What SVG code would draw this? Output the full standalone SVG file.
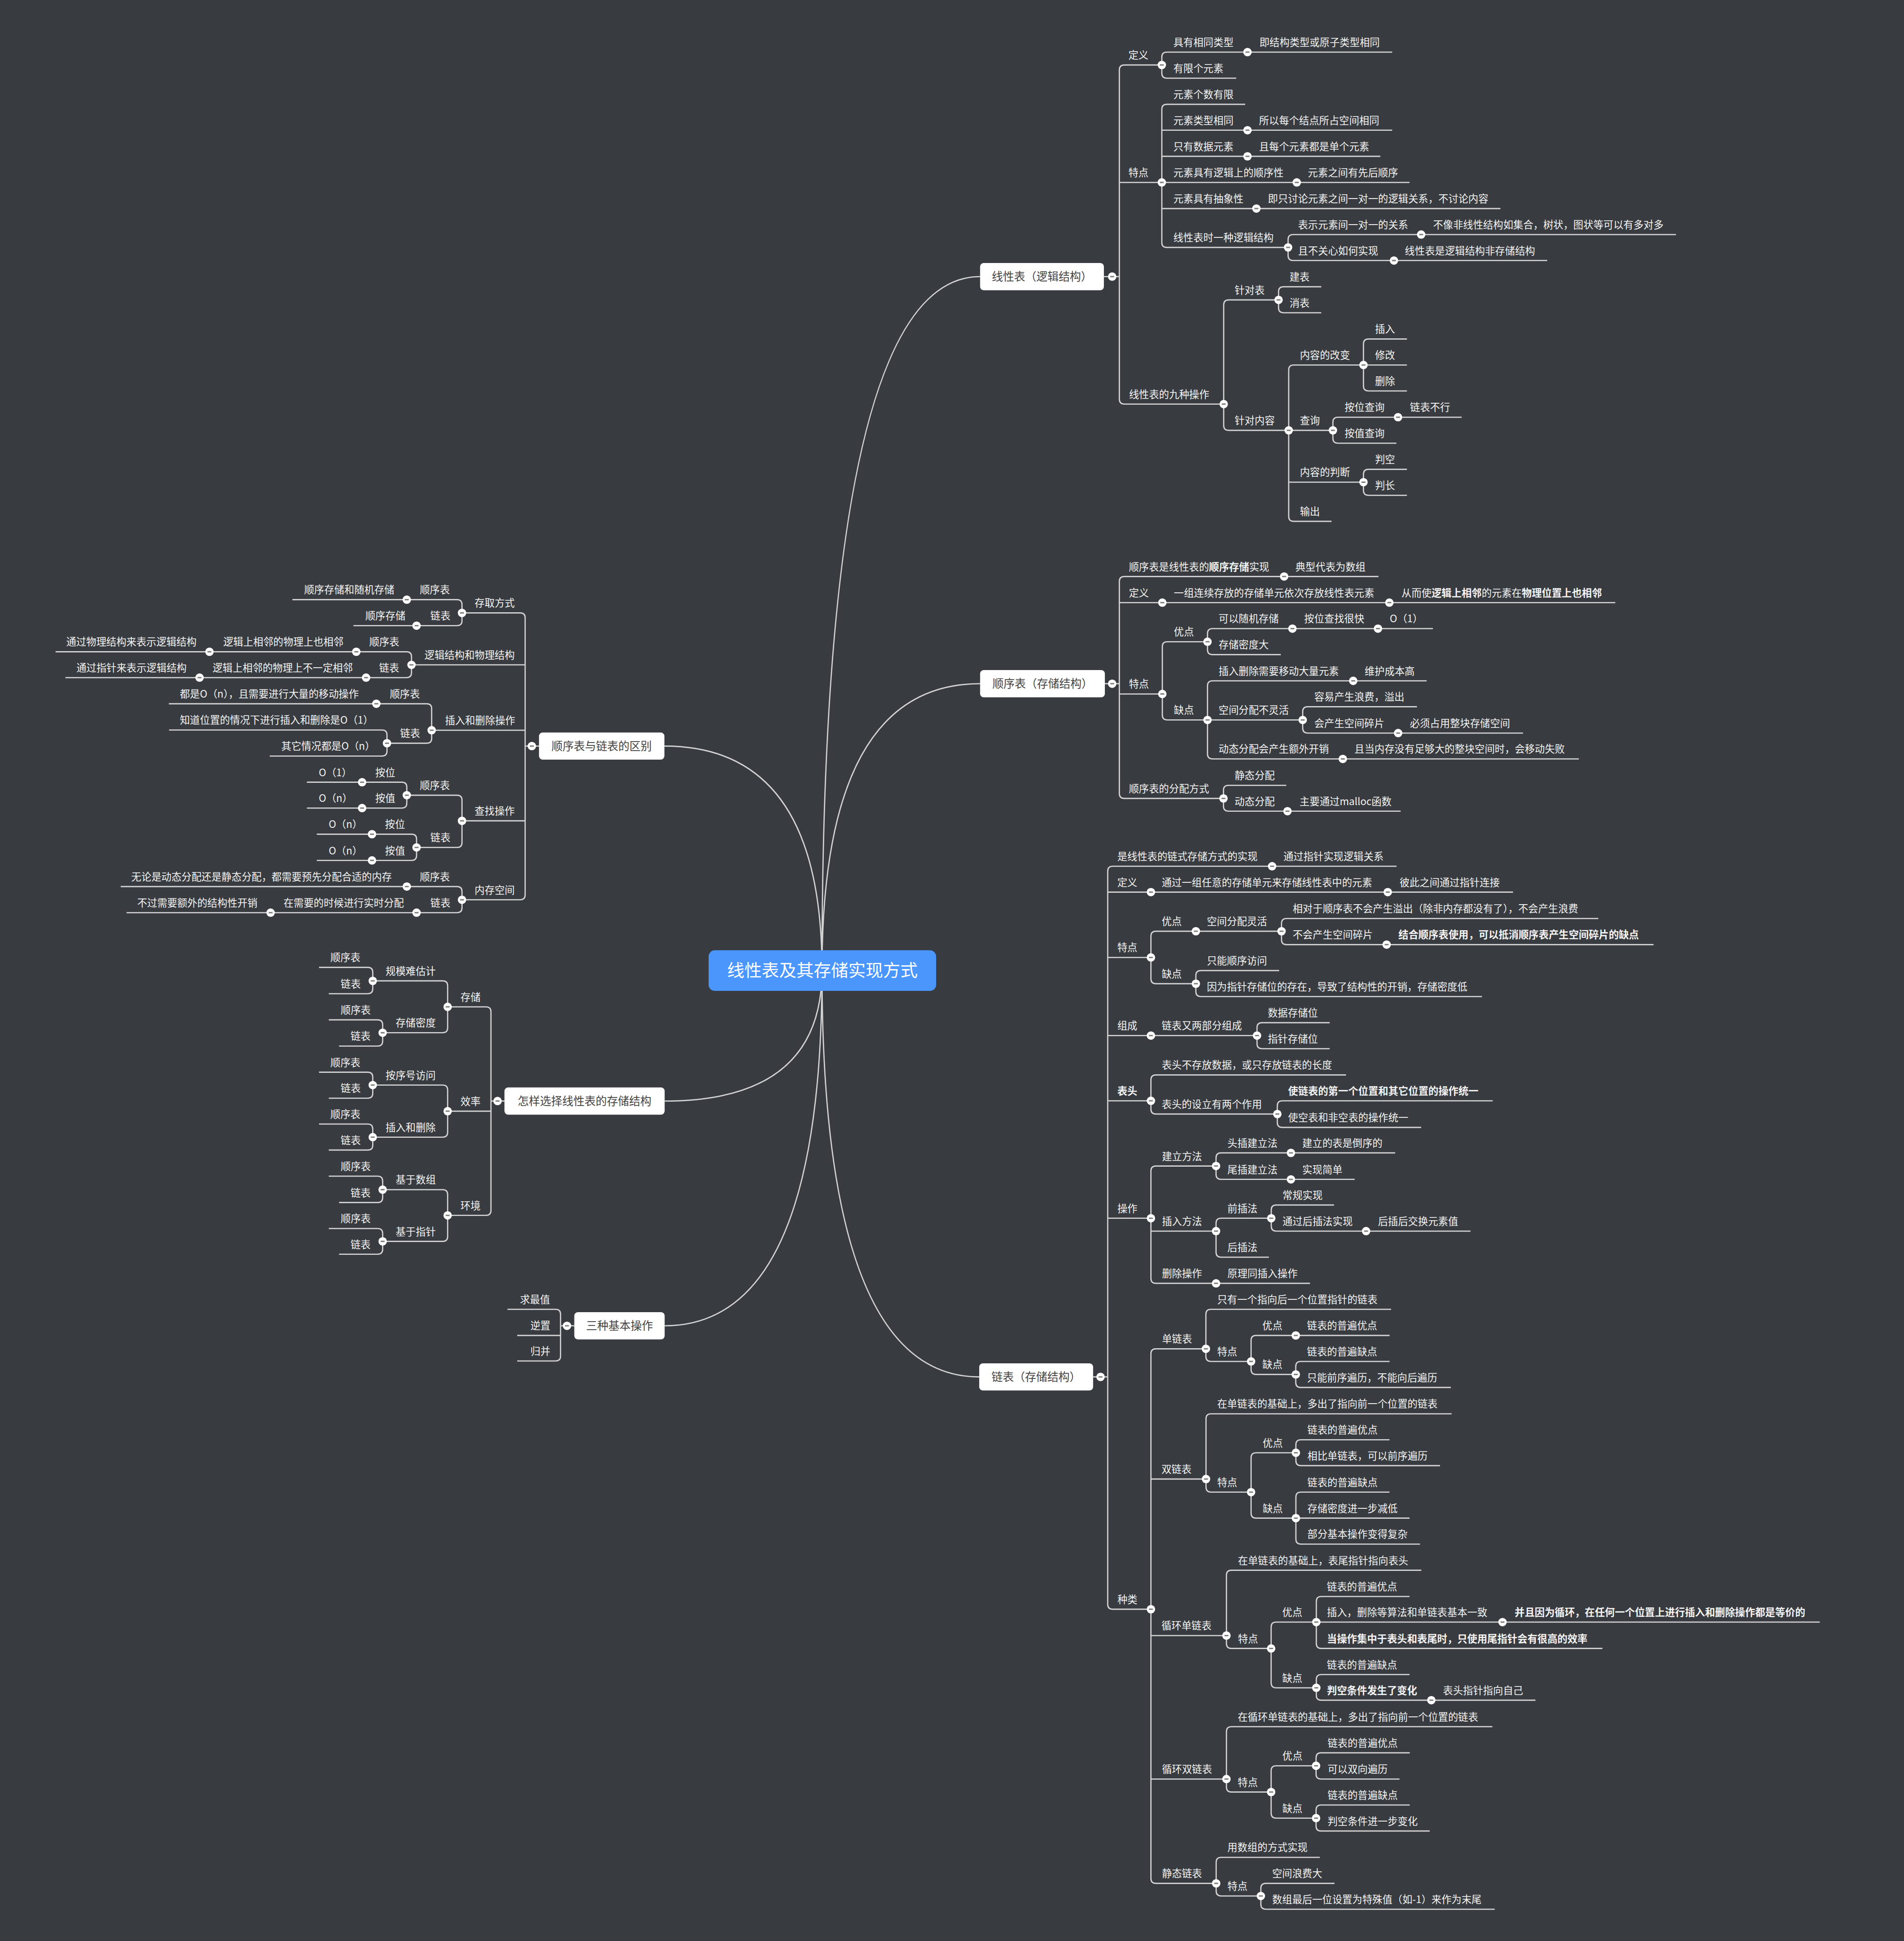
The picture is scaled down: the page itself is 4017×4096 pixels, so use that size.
<svg xmlns="http://www.w3.org/2000/svg" width="4017" height="4096" viewBox="0 0 4017 4096">
<defs>
<style>
text{font-family:"Noto Sans CJK SC","Noto Sans",sans-serif;font-size:8.1px;fill:#f4f4f4}
.bx{fill:#fff}
.bt{font-size:9px;fill:#444;text-anchor:middle}
.rt{font-size:14px;fill:#fff;text-anchor:middle}
.b{font-weight:bold}
#conn path{fill:none;stroke:#d4d4d4;stroke-width:1}
</style>
<g id="d"><circle r="3.4" fill="#fff"/><path d="M-1.6 0H1.6" stroke="#7d7d7d" stroke-width="1.1"/></g>
</defs>
<rect width="4017" height="4096" fill="#383b40"/>
<g transform="scale(2.6118)">
<g id="conn">
<path d="M664,784 Q664,223.5 791.7,223.5"/>
<path d="M664,784 Q664,552.4 791.7,552.4"/>
<path d="M664,784 Q664,1112.5 791,1112.5"/>
<path d="M664,784 Q664,602.8 536.7,602.8"/>
<path d="M664,784 Q664,889.6 536.9,889.6"/>
<path d="M664,784 Q664,1071.2 536.9,1071.2"/>
<!-- R1 -->
<path d="M891.7,223.5 H904.2"/>
<path d="M938.5,52.5 H908.2 Q904.2,52.5 904.2,56.5 V322.5 Q904.2,326.5 908.2,326.5 H988.5"/>
<path d="M904.2,147.4 H938.5"/>
<path d="M1007.7,42.1 H942.5 Q938.5,42.1 938.5,46.1 V59.2 Q938.5,63.2 942.5,63.2 H998.6"/>
<path d="M1007.7,42.1 H1124.6"/>
<path d="M1005.8,84.3 H942.5 Q938.5,84.3 938.5,88.3 V195.9 Q938.5,199.9 942.5,199.9 H1040.5"/>
<path d="M938.5,105.2 H1124.6 M938.5,126.3 H1115 M938.5,147.4 H1138.6 M938.5,168.5 H1212"/>
<path d="M1148,189.5 H1044.5 Q1040.5,189.5 1040.5,193.5 V206.5 Q1040.5,210.5 1044.5,210.5 H1249.8"/>
<path d="M1148,189.5 H1353.8"/>
<path d="M1032.8,242.3 H992.5 Q988.5,242.3 988.5,246.3 V343.7 Q988.5,347.7 992.5,347.7 H1041"/>
<path d="M1067.3,231.7 H1036.8 Q1032.8,231.7 1032.8,235.7 V248.7 Q1032.8,252.7 1036.8,252.7 H1067.3"/>
<path d="M1101.4,294.9 H1045 Q1041,294.9 1041,298.9 V417.2 Q1041,421.2 1045,421.2 H1075.6"/>
<path d="M1041,347.7 H1076.7 M1041,389.6 H1101.4"/>
<path d="M1136.5,273.9 H1105.4 Q1101.4,273.9 1101.4,277.9 V311.9 Q1101.4,315.9 1105.4,315.9 H1136.5 M1101.4,294.9 H1136.5"/>
<path d="M1180.7,337.1 H1080.7 Q1076.7,337.1 1076.7,341.1 V354.1 Q1076.7,358.1 1080.7,358.1 H1128"/>
<path d="M1136.5,379.2 H1105.4 Q1101.4,379.2 1101.4,383.2 V396.2 Q1101.4,400.2 1105.4,400.2 H1136.5"/>
<!-- R2 -->
<path d="M892.5,552.4 H904.2"/>
<path d="M1037.3,465.8 H908.2 Q904.2,465.8 904.2,469.8 V641.1 Q904.2,645.1 908.2,645.1 H988.3"/>
<path d="M904.2,486.9 H1304.8 M904.2,560.7 H938.9 M1037.3,465.8 H1113.5"/>
<path d="M975.4,518.5 H942.9 Q938.9,518.5 938.9,522.5 V577.7 Q938.9,581.7 942.9,581.7 H975.4"/>
<path d="M1044,507.9 H979.4 Q975.4,507.9 975.4,511.9 V524.9 Q975.4,528.9 979.4,528.9 H1034.6 M1044,507.9 H1157.5"/>
<path d="M1093.1,550.1 H979.4 Q975.4,550.1 975.4,554.1 V609.2 Q975.4,613.2 979.4,613.2 H1275.4 M975.4,581.7 H1052.3 M1093.1,550.1 H1152.4"/>
<path d="M1144.6,571 H1056.3 Q1052.3,571 1052.3,575 V588.3 Q1052.3,592.3 1056.3,592.3 H1230.3"/>
<path d="M1039,634.5 H992.3 Q988.3,634.5 988.3,638.5 V651.4 Q988.3,655.4 992.3,655.4 H1131.4"/>
<!-- R3 -->
<path d="M883,1112.5 H894.8"/>
<path d="M1027.6,699.9 H898.8 Q894.8,699.9 894.8,703.9 V1296.2 Q894.8,1300.2 898.8,1300.2 H929.7"/>
<path d="M894.8,720.8 H1222.2 M894.8,773.6 H929.7 M894.8,836.7 H1015.4 M894.8,889.4 H929.7 M894.8,984.3 H929.7 M1027.6,699.9 H1128.1"/>
<path d="M966,752.4 H933.7 Q929.7,752.4 929.7,756.4 V790.8 Q929.7,794.8 933.7,794.8 H966 M966,752.4 H1035.2"/>
<path d="M1291.1,742.1 H1039.2 Q1035.2,742.1 1035.2,746.1 V759.2 Q1035.2,763.2 1039.2,763.2 H1335.7"/>
<path d="M1033.3,784.2 H970 Q966,784.2 966,788.2 V801.2 Q966,805.2 970,805.2 H1197.1"/>
<path d="M1074.1,826.3 H1019.4 Q1015.4,826.3 1015.4,830.3 V843.3 Q1015.4,847.3 1019.4,847.3 H1074.1"/>
<path d="M1087.3,868.5 H933.7 Q929.7,868.5 929.7,872.5 V896.1 Q929.7,900.1 933.7,900.1 H1031.8"/>
<path d="M1205.8,889.4 H1035.8 Q1031.8,889.4 1031.8,893.4 V906.9 Q1031.8,910.9 1035.8,910.9 H1148"/>
<path d="M982.3,942.1 H933.7 Q929.7,942.1 929.7,946.1 V1032.9 Q929.7,1036.9 933.7,1036.9 H1058.2 M929.7,994.7 H982.3"/>
<path d="M1127,931.5 H986.3 Q982.3,931.5 982.3,935.5 V948.9 Q982.3,952.9 986.3,952.9 H1094.3"/>
<path d="M1026.9,984.3 H986.3 Q982.3,984.3 982.3,988.3 V1011.8 Q982.3,1015.8 986.3,1015.8 H1025"/>
<path d="M1077.6,973.6 H1030.9 Q1026.9,973.6 1026.9,977.6 V990.7 Q1026.9,994.7 1030.9,994.7 H1187.9"/>
<path d="M974.1,1089.8 H933.7 Q929.7,1089.8 929.7,1093.8 V1517.7 Q929.7,1521.7 933.7,1521.7 H982.4 M929.7,1195 H974.2 M929.7,1321.5 H990.7 M929.7,1437.4 H990.7"/>
<path d="M1123.7,1057.9 H978.1 Q974.1,1057.9 974.1,1061.9 V1096 Q974.1,1100 978.1,1100 H1010.6"/>
<path d="M1046.7,1079 H1014.6 Q1010.6,1079 1010.6,1083 V1106.5 Q1010.6,1110.5 1014.6,1110.5 H1046.7 M1046.7,1079 H1122.5"/>
<path d="M1122.5,1100 H1050.7 Q1046.7,1100 1046.7,1104 V1117 Q1046.7,1121 1050.7,1121 H1172"/>
<path d="M1172.6,1142.3 H978.2 Q974.2,1142.3 974.2,1146.3 V1201.6 Q974.2,1205.6 978.2,1205.6 H1010.6"/>
<path d="M1046.8,1173.8 H1014.6 Q1010.6,1173.8 1010.6,1177.8 V1222.6 Q1010.6,1226.6 1014.6,1226.6 H1046.8"/>
<path d="M1122.4,1163.3 H1050.8 Q1046.8,1163.3 1046.8,1167.3 V1180.2 Q1046.8,1184.2 1050.8,1184.2 H1163.2"/>
<path d="M1122.4,1205.6 H1050.8 Q1046.8,1205.6 1046.8,1209.6 V1243.6 Q1046.8,1247.6 1050.8,1247.6 H1147 M1046.8,1226.6 H1138.6"/>
<path d="M1148.1,1268.7 H994.7 Q990.7,1268.7 990.7,1272.7 V1327.9 Q990.7,1331.9 994.7,1331.9 H1026.8"/>
<path d="M1063.3,1310.6 H1030.8 Q1026.8,1310.6 1026.8,1314.6 V1359.7 Q1026.8,1363.7 1030.8,1363.7 H1063.3"/>
<path d="M1138.6,1289.9 H1067.3 Q1063.3,1289.9 1063.3,1293.9 V1327.9 Q1063.3,1331.9 1067.3,1331.9 H1294.4 M1063.3,1310.6 H1470"/>
<path d="M1138.6,1353 H1067.3 Q1063.3,1353 1063.3,1357 V1369.7 Q1063.3,1373.7 1067.3,1373.7 H1240.3"/>
<path d="M1205.5,1395.1 H994.7 Q990.7,1395.1 990.7,1399.1 V1443.9 Q990.7,1447.9 994.7,1447.9 H1026.8"/>
<path d="M1063.1,1426.7 H1030.8 Q1026.8,1426.7 1026.8,1430.7 V1465 Q1026.8,1469 1030.8,1469 H1063.1"/>
<path d="M1138.8,1416.2 H1067.1 Q1063.1,1416.2 1063.1,1420.2 V1433.4 Q1063.1,1437.4 1067.1,1437.4 H1130.5"/>
<path d="M1138.8,1458.4 H1067.1 Q1063.1,1458.4 1063.1,1462.4 V1475.4 Q1063.1,1479.4 1067.1,1479.4 H1154.9"/>
<path d="M1066.1,1500.7 H986.4 Q982.4,1500.7 982.4,1504.7 V1527.9 Q982.4,1531.9 986.4,1531.9 H1018.5"/>
<path d="M1078,1521.7 H1022.5 Q1018.5,1521.7 1018.5,1525.7 V1538.6 Q1018.5,1542.6 1022.5,1542.6 H1207.4"/>
<!-- L1 -->
<path d="M435.4,602.8 H424.2"/>
<path d="M373.2,495.2 H420.2 Q424.2,495.2 424.2,499.2 V723 Q424.2,727 420.2,727 H373.2 M424.2,537.2 H332.4 M424.2,590 H348.7 M424.2,663.2 H373.2"/>
<path d="M236.2,484.5 H369.2 Q373.2,484.5 373.2,488.5 V501.5 Q373.2,505.5 369.2,505.5 H285.5"/>
<path d="M44.9,526.6 H328.4 Q332.4,526.6 332.4,530.6 V543.5 Q332.4,547.5 328.4,547.5 H52.8"/>
<path d="M136.4,568.6 H344.7 Q348.7,568.6 348.7,572.6 V596.5 Q348.7,600.5 344.7,600.5 H312.6"/>
<path d="M136.6,589.8 H308.6 Q312.6,589.8 312.6,593.8 V606.9 Q312.6,610.9 308.6,610.9 H217.9"/>
<path d="M328.6,642.5 H369.2 Q373.2,642.5 373.2,646.5 V680.7 Q373.2,684.7 369.2,684.7 H336.5"/>
<path d="M247.9,632 H324.6 Q328.6,632 328.6,636 V648.9 Q328.6,652.9 324.6,652.9 H247.9"/>
<path d="M255.9,674 H332.5 Q336.5,674 336.5,678 V691.2 Q336.5,695.2 332.5,695.2 H255.9"/>
<path d="M97.5,716.3 H369.2 Q373.2,716.3 373.2,720.3 V733.4 Q373.2,737.4 369.2,737.4 H102.2"/>
<!-- L2 -->
<path d="M407.5,889.6 H396.6"/>
<path d="M361.6,813.5 H392.6 Q396.6,813.5 396.6,817.5 V978 Q396.6,982 392.6,982 H361.6 M396.6,897.8 H361.6"/>
<path d="M301.1,792.5 H357.6 Q361.6,792.5 361.6,796.5 V830.4 Q361.6,834.4 357.6,834.4 H309.1"/>
<path d="M257.7,781.6 H297.1 Q301.1,781.6 301.1,785.6 V798.9 Q301.1,802.9 297.1,802.9 H265.6"/>
<path d="M265.6,824 H305.1 Q309.1,824 309.1,828 V841.2 Q309.1,845.2 305.1,845.2 H273.9"/>
<path d="M301.1,876.7 H357.6 Q361.6,876.7 361.6,880.7 V914.8 Q361.6,918.8 357.6,918.8 H301.1"/>
<path d="M257.7,866.3 H297.1 Q301.1,866.3 301.1,870.3 V883.3 Q301.1,887.3 297.1,887.3 H265.6"/>
<path d="M257.7,908.2 H297.1 Q301.1,908.2 301.1,912.2 V925.2 Q301.1,929.2 297.1,929.2 H265.6"/>
<path d="M309.1,961.2 H357.6 Q361.6,961.2 361.6,965.2 V999 Q361.6,1003 357.6,1003 H309.1"/>
<path d="M265.6,950.3 H305.1 Q309.1,950.3 309.1,954.3 V967.6 Q309.1,971.6 305.1,971.6 H273.9"/>
<path d="M265.6,992.6 H305.1 Q309.1,992.6 309.1,996.6 V1009.4 Q309.1,1013.4 305.1,1013.4 H273.9"/>
<!-- L3 -->
<path d="M463.9,1071.2 H452.8"/>
<path d="M409.9,1057.9 H448.8 Q452.8,1057.9 452.8,1061.9 V1095.6 Q452.8,1099.6 448.8,1099.6 H417.8 M452.8,1079 H417.8"/>
</g>
<g id="toggles">
<use href="#d" x="898.4" y="223.5"/><use href="#d" x="938.5" y="52.5"/><use href="#d" x="1007.7" y="42.1"/><use href="#d" x="938.5" y="147.4"/><use href="#d" x="1007.7" y="105.2"/><use href="#d" x="1007.7" y="126.3"/><use href="#d" x="1047.5" y="147.4"/><use href="#d" x="1014.9" y="168.5"/><use href="#d" x="1040.5" y="199.9"/><use href="#d" x="1148" y="189.5"/><use href="#d" x="1126" y="210.5"/><use href="#d" x="988.5" y="326.5"/><use href="#d" x="1032.8" y="242.3"/><use href="#d" x="1041" y="347.7"/><use href="#d" x="1101.4" y="294.9"/><use href="#d" x="1076.7" y="347.7"/><use href="#d" x="1129.3" y="337.1"/><use href="#d" x="1101.4" y="389.6"/>
<use href="#d" x="898.4" y="552.4"/><use href="#d" x="1037.3" y="465.8"/><use href="#d" x="938.9" y="486.9"/><use href="#d" x="1122.3" y="486.9"/><use href="#d" x="938.9" y="560.7"/><use href="#d" x="975.4" y="518.5"/><use href="#d" x="1044" y="507.9"/><use href="#d" x="1113.1" y="507.9"/><use href="#d" x="975.4" y="581.7"/><use href="#d" x="1093.1" y="550.1"/><use href="#d" x="1052.3" y="581.7"/><use href="#d" x="1129.4" y="592.3"/><use href="#d" x="1084.7" y="613.2"/><use href="#d" x="988.3" y="645.1"/><use href="#d" x="1040" y="655.4"/>
<use href="#d" x="889" y="1112.5"/><use href="#d" x="1027.6" y="699.9"/><use href="#d" x="929.7" y="720.8"/><use href="#d" x="1121" y="720.8"/><use href="#d" x="929.7" y="773.6"/><use href="#d" x="966" y="752.4"/><use href="#d" x="1035.2" y="752.4"/><use href="#d" x="1120.1" y="763.2"/><use href="#d" x="966" y="794.8"/><use href="#d" x="929.7" y="836.7"/><use href="#d" x="1015.4" y="836.7"/><use href="#d" x="929.7" y="889.4"/><use href="#d" x="1031.8" y="900.1"/><use href="#d" x="929.7" y="984.3"/><use href="#d" x="982.3" y="942.1"/><use href="#d" x="1042.8" y="931.5"/><use href="#d" x="1042.8" y="952.9"/><use href="#d" x="982.3" y="994.7"/><use href="#d" x="1026.9" y="984.3"/><use href="#d" x="1103.5" y="994.7"/><use href="#d" x="982.3" y="1036.9"/><use href="#d" x="929.7" y="1300.2"/><use href="#d" x="974.1" y="1089.8"/><use href="#d" x="1010.6" y="1100"/><use href="#d" x="1046.7" y="1079"/><use href="#d" x="1046.7" y="1110.5"/><use href="#d" x="974.2" y="1195"/><use href="#d" x="1010.6" y="1205.6"/><use href="#d" x="1046.8" y="1173.8"/><use href="#d" x="1046.8" y="1226.6"/><use href="#d" x="990.7" y="1321.5"/><use href="#d" x="1026.8" y="1331.9"/><use href="#d" x="1063.3" y="1310.6"/><use href="#d" x="1213.7" y="1310.6"/><use href="#d" x="1063.3" y="1363.7"/><use href="#d" x="1156.2" y="1373.7"/><use href="#d" x="990.7" y="1437.4"/><use href="#d" x="1026.8" y="1447.9"/><use href="#d" x="1063.1" y="1426.7"/><use href="#d" x="1063.1" y="1469"/><use href="#d" x="982.4" y="1521.7"/><use href="#d" x="1018.5" y="1531.9"/>
<use href="#d" x="429.6" y="602.8"/><use href="#d" x="373.2" y="495.2"/><use href="#d" x="328.6" y="484.5"/><use href="#d" x="336.5" y="505.5"/><use href="#d" x="332.4" y="537.2"/><use href="#d" x="287.8" y="526.6"/><use href="#d" x="169.2" y="526.6"/><use href="#d" x="295.7" y="547.5"/><use href="#d" x="161.2" y="547.5"/><use href="#d" x="348.7" y="590"/><use href="#d" x="304" y="568.6"/><use href="#d" x="312.6" y="600.5"/><use href="#d" x="373.2" y="663.2"/><use href="#d" x="328.6" y="642.5"/><use href="#d" x="292.5" y="632"/><use href="#d" x="292.5" y="652.9"/><use href="#d" x="336.5" y="684.7"/><use href="#d" x="300.5" y="674"/><use href="#d" x="300.5" y="695.2"/><use href="#d" x="373.2" y="727"/><use href="#d" x="328.6" y="716.3"/><use href="#d" x="336.5" y="737.4"/><use href="#d" x="218.6" y="737.4"/>
<use href="#d" x="401.9" y="889.6"/><use href="#d" x="361.6" y="813.5"/><use href="#d" x="301.1" y="792.5"/><use href="#d" x="309.1" y="834.4"/><use href="#d" x="361.6" y="897.8"/><use href="#d" x="301.1" y="876.7"/><use href="#d" x="301.1" y="918.8"/><use href="#d" x="361.6" y="982"/><use href="#d" x="309.1" y="961.2"/><use href="#d" x="309.1" y="1003"/>
<use href="#d" x="458" y="1071.2"/>
</g>
<g id="root"><rect x="572.4" y="767.8" width="183.8" height="32.8" rx="5" fill="#4a96fc"/><text class="rt" x="664.3" y="789">线性表及其存储实现方式</text></g>
<g id="b1"><rect class="bx" x="791.7" y="212.5" width="100" height="22" rx="3"/><text class="bt" x="841.7" y="226.8">线性表（逻辑结构）</text></g>
<g id="b2"><rect class="bx" x="791.7" y="541.4" width="100.8" height="22" rx="3"/><text class="bt" x="842.1" y="555.7">顺序表（存储结构）</text></g>
<g id="b3"><rect class="bx" x="791" y="1101.5" width="92" height="22" rx="3"/><text class="bt" x="837" y="1115.8">链表（存储结构）</text></g>
<g id="b4"><rect class="bx" x="435.4" y="591.8" width="101.3" height="22" rx="3"/><text class="bt" x="486" y="606.1">顺序表与链表的区别</text></g>
<g id="b5"><rect class="bx" x="407.5" y="878.6" width="129.4" height="22" rx="3"/><text class="bt" x="472.2" y="892.9">怎样选择线性表的存储结构</text></g>
<g id="b6"><rect class="bx" x="463.9" y="1060.2" width="73" height="22" rx="3"/><text class="bt" x="500.4" y="1074.5">三种基本操作</text></g>
<g id="n1"><text x="911.5" y="47.5">定义</text></g>
<g id="n2"><text x="947.8" y="37.1">具有相同类型</text></g>
<g id="n3"><text x="1017.4" y="37.1">即结构类型或原子类型相同</text></g>
<g id="n4"><text x="947.8" y="58.2">有限个元素</text></g>
<g id="n5"><text x="911.5" y="142.4">特点</text></g>
<g id="n6"><text x="947.8" y="79.3">元素个数有限</text></g>
<g id="n7"><text x="947.8" y="100.2">元素类型相同</text></g>
<g id="n8"><text x="1017" y="100.2">所以每个结点所占空间相同</text></g>
<g id="n9"><text x="947.8" y="121.3">只有数据元素</text></g>
<g id="n10"><text x="1017" y="121.3">且每个元素都是单个元素</text></g>
<g id="n11"><text x="947.8" y="142.4">元素具有逻辑上的顺序性</text></g>
<g id="n12"><text x="1056.5" y="142.4">元素之间有先后顺序</text></g>
<g id="n13"><text x="947.8" y="163.5">元素具有抽象性</text></g>
<g id="n14"><text x="1024.2" y="163.5">即只讨论元素之间一对一的逻辑关系，不讨论内容</text></g>
<g id="n15"><text x="947.8" y="194.9">线性表时一种逻辑结构</text></g>
<g id="n16"><text x="1048.5" y="184.5">表示元素间一对一的关系</text></g>
<g id="n17"><text x="1157.6" y="184.5">不像非线性结构如集合，树状，图状等可以有多对多</text></g>
<g id="n18"><text x="1048.5" y="205.5">且不关心如何实现</text></g>
<g id="n19"><text x="1134.8" y="205.5">线性表是逻辑结构非存储结构</text></g>
<g id="n20"><text x="912" y="321.5">线性表的九种操作</text></g>
<g id="n21"><text x="997.3" y="237.3">针对表</text></g>
<g id="n22"><text x="1041.7" y="226.7">建表</text></g>
<g id="n23"><text x="1041.7" y="247.7">消表</text></g>
<g id="n24"><text x="997.3" y="342.7">针对内容</text></g>
<g id="n25"><text x="1050" y="289.9">内容的改变</text></g>
<g id="n26"><text x="1110.7" y="268.9">插入</text></g>
<g id="n27"><text x="1110.7" y="289.9">修改</text></g>
<g id="n28"><text x="1110.7" y="310.9">删除</text></g>
<g id="n29"><text x="1050" y="342.7">查询</text></g>
<g id="n30"><text x="1086.1" y="332.1">按位查询</text></g>
<g id="n31"><text x="1139" y="332.1">链表不行</text></g>
<g id="n32"><text x="1086.1" y="353.1">按值查询</text></g>
<g id="n33"><text x="1050" y="384.6">内容的判断</text></g>
<g id="n34"><text x="1110.7" y="374.2">判空</text></g>
<g id="n35"><text x="1110.7" y="395.2">判长</text></g>
<g id="n36"><text x="1050" y="416.2">输出</text></g>
<g id="n37"><text x="911.9" y="460.8">顺序表是线性表的<tspan class="b">顺序存储</tspan>实现</text></g>
<g id="n38"><text x="1046.4" y="460.8">典型代表为数组</text></g>
<g id="n39"><text x="911.9" y="481.9">定义</text></g>
<g id="n40"><text x="948.2" y="481.9">一组连续存放的存储单元依次存放线性表元素</text></g>
<g id="n41"><text x="1132.1" y="481.9">从而使<tspan class="b">逻辑上相邻</tspan>的元素在<tspan class="b">物理位置上也相邻</tspan></text></g>
<g id="n42"><text x="911.9" y="555.7">特点</text></g>
<g id="n43"><text x="948.2" y="513.5">优点</text></g>
<g id="n44"><text x="984.4" y="502.9">可以随机存储</text></g>
<g id="n45"><text x="1053.5" y="502.9">按位查找很快</text></g>
<g id="n46"><text x="1122.6" y="502.9">O（1）</text></g>
<g id="n47"><text x="984.4" y="523.9">存储密度大</text></g>
<g id="n48"><text x="948.2" y="576.7">缺点</text></g>
<g id="n49"><text x="984.4" y="545.1">插入删除需要移动大量元素</text></g>
<g id="n50"><text x="1102.3" y="545.1">维护成本高</text></g>
<g id="n51"><text x="984.4" y="576.7">空间分配不灵活</text></g>
<g id="n52"><text x="1061.6" y="566">容易产生浪费，溢出</text></g>
<g id="n53"><text x="1061.6" y="587.3">会产生空间碎片</text></g>
<g id="n54"><text x="1138.9" y="587.3">必须占用整块存储空间</text></g>
<g id="n55"><text x="984.4" y="608.2">动态分配会产生额外开销</text></g>
<g id="n56"><text x="1094.1" y="608.2">且当内存没有足够大的整块空间时，会移动失败</text></g>
<g id="n57"><text x="911.9" y="640.1">顺序表的分配方式</text></g>
<g id="n58"><text x="997.3" y="629.5">静态分配</text></g>
<g id="n59"><text x="997.3" y="650.4">动态分配</text></g>
<g id="n60"><text x="1049.8" y="650.4">主要通过malloc函数</text></g>
<g id="n61"><text x="902.5" y="694.9">是线性表的链式存储方式的实现</text></g>
<g id="n62"><text x="1036.7" y="694.9">通过指针实现逻辑关系</text></g>
<g id="n63"><text x="902.5" y="715.8">定义</text></g>
<g id="n64"><text x="938.4" y="715.8">通过一组任意的存储单元来存储线性表中的元素</text></g>
<g id="n65"><text x="1130.5" y="715.8">彼此之间通过指针连接</text></g>
<g id="n66"><text x="902.5" y="768.6">特点</text></g>
<g id="n67"><text x="938.4" y="747.4">优点</text></g>
<g id="n68"><text x="974.9" y="747.4">空间分配灵活</text></g>
<g id="n69"><text x="1044.2" y="737.1">相对于顺序表不会产生溢出（除非内存都没有了），不会产生浪费</text></g>
<g id="n70"><text x="1044.2" y="758.2">不会产生空间碎片</text></g>
<g id="n71"><text class="b" x="1129.6" y="758.2">结合顺序表使用，可以抵消顺序表产生空间碎片的缺点</text></g>
<g id="n72"><text x="938.4" y="789.8">缺点</text></g>
<g id="n73"><text x="974.9" y="779.2">只能顺序访问</text></g>
<g id="n74"><text x="974.9" y="800.2">因为指针存储位的存在，导致了结构性的开销，存储密度低</text></g>
<g id="n75"><text x="902.5" y="831.7">组成</text></g>
<g id="n76"><text x="938.4" y="831.7">链表又两部分组成</text></g>
<g id="n77"><text x="1024.1" y="821.3">数据存储位</text></g>
<g id="n78"><text x="1024.1" y="842.3">指针存储位</text></g>
<g id="n79"><text class="b" x="902.5" y="884.4">表头</text></g>
<g id="n80"><text x="938.4" y="863.5">表头不存放数据，或只存放链表的长度</text></g>
<g id="n81"><text x="938.4" y="895.1">表头的设立有两个作用</text></g>
<g id="n82"><text class="b" x="1040.5" y="884.4">使链表的第一个位置和其它位置的操作统一</text></g>
<g id="n83"><text x="1040.5" y="905.9">使空表和非空表的操作统一</text></g>
<g id="n84"><text x="902.6" y="979.3">操作</text></g>
<g id="n85"><text x="938.6" y="937.1">建立方法</text></g>
<g id="n86"><text x="991.5" y="926.5">头插建立法</text></g>
<g id="n87"><text x="1052" y="926.5">建立的表是倒序的</text></g>
<g id="n88"><text x="991.5" y="947.9">尾插建立法</text></g>
<g id="n89"><text x="1052" y="947.9">实现简单</text></g>
<g id="n90"><text x="938.6" y="989.7">插入方法</text></g>
<g id="n91"><text x="991.5" y="979.3">前插法</text></g>
<g id="n92"><text x="1036" y="968.6">常规实现</text></g>
<g id="n93"><text x="1036" y="989.7">通过后插法实现</text></g>
<g id="n94"><text x="1113.1" y="989.7">后插后交换元素值</text></g>
<g id="n95"><text x="991.5" y="1010.8">后插法</text></g>
<g id="n96"><text x="938.6" y="1031.9">删除操作</text></g>
<g id="n97"><text x="991.5" y="1031.9">原理同插入操作</text></g>
<g id="n98"><text x="902.6" y="1295.2">种类</text></g>
<g id="n99"><text x="938.6" y="1084.8">单链表</text></g>
<g id="n100"><text x="983.2" y="1052.9">只有一个指向后一个位置指针的链表</text></g>
<g id="n101"><text x="983.2" y="1095">特点</text></g>
<g id="n102"><text x="1019.7" y="1074">优点</text></g>
<g id="n103"><text x="1055.8" y="1074">链表的普遍优点</text></g>
<g id="n104"><text x="1019.7" y="1105.5">缺点</text></g>
<g id="n105"><text x="1055.8" y="1095">链表的普遍缺点</text></g>
<g id="n106"><text x="1055.8" y="1116">只能前序遍历，不能向后遍历</text></g>
<g id="n107"><text x="938.2" y="1190">双链表</text></g>
<g id="n108"><text x="983.2" y="1137.3">在单链表的基础上，多出了指向前一个位置的链表</text></g>
<g id="n109"><text x="983.2" y="1200.6">特点</text></g>
<g id="n110"><text x="1020" y="1168.8">优点</text></g>
<g id="n111"><text x="1056.1" y="1158.3">链表的普遍优点</text></g>
<g id="n112"><text x="1056.1" y="1179.2">相比单链表，可以前序遍历</text></g>
<g id="n113"><text x="1020" y="1221.6">缺点</text></g>
<g id="n114"><text x="1056.1" y="1200.6">链表的普遍缺点</text></g>
<g id="n115"><text x="1056.1" y="1221.6">存储密度进一步减低</text></g>
<g id="n116"><text x="1056.1" y="1242.6">部分基本操作变得复杂</text></g>
<g id="n117"><text x="938.2" y="1316.5">循环单链表</text></g>
<g id="n118"><text x="1000" y="1263.7">在单链表的基础上，表尾指针指向表头</text></g>
<g id="n119"><text x="1000" y="1326.9">特点</text></g>
<g id="n120"><text x="1035.8" y="1305.6">优点</text></g>
<g id="n121"><text x="1071.9" y="1284.9">链表的普遍优点</text></g>
<g id="n122"><text x="1071.9" y="1305.6">插入，删除等算法和单链表基本一致</text></g>
<g id="n123"><text class="b" x="1223.5" y="1305.6">并且因为循环，在任何一个位置上进行插入和删除操作都是等价的</text></g>
<g id="n124"><text class="b" x="1071.9" y="1326.9">当操作集中于表头和表尾时，只使用尾指针会有很高的效率</text></g>
<g id="n125"><text x="1035.8" y="1358.7">缺点</text></g>
<g id="n126"><text x="1071.9" y="1348">链表的普遍缺点</text></g>
<g id="n127"><text class="b" x="1071.9" y="1368.7">判空条件发生了变化</text></g>
<g id="n128"><text x="1165.6" y="1368.7">表头指针指向自己</text></g>
<g id="n129"><text x="938.6" y="1432.4">循环双链表</text></g>
<g id="n130"><text x="999.8" y="1390.1">在循环单链表的基础上，多出了指向前一个位置的链表</text></g>
<g id="n131"><text x="999.8" y="1442.9">特点</text></g>
<g id="n132"><text x="1035.9" y="1421.7">优点</text></g>
<g id="n133"><text x="1072.4" y="1411.2">链表的普遍优点</text></g>
<g id="n134"><text x="1072.4" y="1432.4">可以双向遍历</text></g>
<g id="n135"><text x="1035.9" y="1464">缺点</text></g>
<g id="n136"><text x="1072.4" y="1453.4">链表的普遍缺点</text></g>
<g id="n137"><text x="1072.4" y="1474.4">判空条件进一步变化</text></g>
<g id="n138"><text x="938.6" y="1516.7">静态链表</text></g>
<g id="n139"><text x="991.5" y="1495.7">用数组的方式实现</text></g>
<g id="n140"><text x="991.5" y="1526.9">特点</text></g>
<g id="n141"><text x="1027.6" y="1516.7">空间浪费大</text></g>
<g id="n142"><text x="1027.6" y="1537.6">数组最后一位设置为特殊值（如-1）来作为末尾</text></g>
<g id="n143"><text x="383.4" y="490.2">存取方式</text></g>
<g id="n144"><text x="339.1" y="479.5">顺序表</text></g>
<g id="n145"><text x="245.7" y="479.5">顺序存储和随机存储</text></g>
<g id="n146"><text x="347.7" y="500.5">链表</text></g>
<g id="n147"><text x="295.1" y="500.5">顺序存储</text></g>
<g id="n148"><text x="342.9" y="532.2">逻辑结构和物理结构</text></g>
<g id="n149"><text x="298.3" y="521.6">顺序表</text></g>
<g id="n150"><text x="180.3" y="521.6">逻辑上相邻的物理上也相邻</text></g>
<g id="n151"><text x="53.5" y="521.6">通过物理结构来表示逻辑结构</text></g>
<g id="n152"><text x="306.3" y="542.5">链表</text></g>
<g id="n153"><text x="171.7" y="542.5">逻辑上相邻的物理上不一定相邻</text></g>
<g id="n154"><text x="61.7" y="542.5">通过指针来表示逻辑结构</text></g>
<g id="n155"><text x="359.5" y="585">插入和删除操作</text></g>
<g id="n156"><text x="314.9" y="563.6">顺序表</text></g>
<g id="n157"><text x="145.3" y="563.6">都是O（n），且需要进行大量的移动操作</text></g>
<g id="n158"><text x="323.2" y="595.5">链表</text></g>
<g id="n159"><text x="145.3" y="584.8">知道位置的情况下进行插入和删除是O（1）</text></g>
<g id="n160"><text x="227.2" y="605.9">其它情况都是O（n）</text></g>
<g id="n161"><text x="383.4" y="658.2">查找操作</text></g>
<g id="n162"><text x="339.1" y="637.5">顺序表</text></g>
<g id="n163"><text x="303.1" y="627">按位</text></g>
<g id="n164"><text x="257.5" y="627">O（1）</text></g>
<g id="n165"><text x="303.1" y="647.9">按值</text></g>
<g id="n166"><text x="257.5" y="647.9">O（n）</text></g>
<g id="n167"><text x="347.7" y="679.7">链表</text></g>
<g id="n168"><text x="311" y="669">按位</text></g>
<g id="n169"><text x="265.5" y="669">O（n）</text></g>
<g id="n170"><text x="311" y="690.2">按值</text></g>
<g id="n171"><text x="265.5" y="690.2">O（n）</text></g>
<g id="n172"><text x="383.4" y="722">内存空间</text></g>
<g id="n173"><text x="339.1" y="711.3">顺序表</text></g>
<g id="n174"><text x="106.1" y="711.3">无论是动态分配还是静态分配，都需要预先分配合适的内存</text></g>
<g id="n175"><text x="347.7" y="732.4">链表</text></g>
<g id="n176"><text x="229.1" y="732.4">在需要的时候进行实时分配</text></g>
<g id="n177"><text x="110.8" y="732.4">不过需要额外的结构性开销</text></g>
<g id="n178"><text x="372" y="808.5">存储</text></g>
<g id="n179"><text x="311.5" y="787.5">规模难估计</text></g>
<g id="n180"><text x="266.9" y="776.6">顺序表</text></g>
<g id="n181"><text x="275.2" y="797.9">链表</text></g>
<g id="n182"><text x="319.6" y="829.4">存储密度</text></g>
<g id="n183"><text x="275.2" y="819">顺序表</text></g>
<g id="n184"><text x="283.2" y="840.2">链表</text></g>
<g id="n185"><text x="372" y="892.8">效率</text></g>
<g id="n186"><text x="311.5" y="871.7">按序号访问</text></g>
<g id="n187"><text x="266.9" y="861.3">顺序表</text></g>
<g id="n188"><text x="275.2" y="882.3">链表</text></g>
<g id="n189"><text x="311.5" y="913.8">插入和删除</text></g>
<g id="n190"><text x="266.9" y="903.2">顺序表</text></g>
<g id="n191"><text x="275.2" y="924.2">链表</text></g>
<g id="n192"><text x="372" y="977">环境</text></g>
<g id="n193"><text x="319.6" y="956.2">基于数组</text></g>
<g id="n194"><text x="275.2" y="945.3">顺序表</text></g>
<g id="n195"><text x="283.2" y="966.6">链表</text></g>
<g id="n196"><text x="319.6" y="998">基于指针</text></g>
<g id="n197"><text x="275.2" y="987.6">顺序表</text></g>
<g id="n198"><text x="283.2" y="1008.4">链表</text></g>
<g id="n199"><text x="420" y="1052.9">求最值</text></g>
<g id="n200"><text x="428.4" y="1074">逆置</text></g>
<g id="n201"><text x="428.4" y="1094.6">归并</text></g>
</g>
</svg>
